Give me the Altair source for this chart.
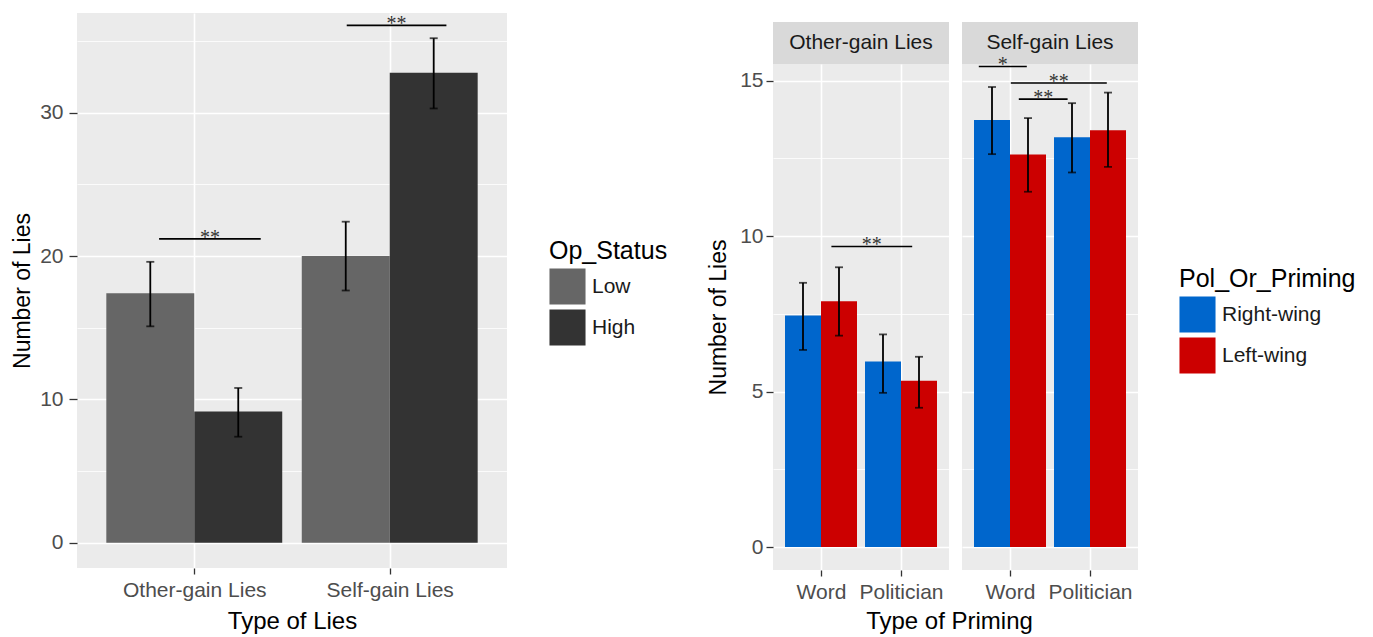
import altair as alt
import pandas as pd

# ---------------- data ----------------
# Left chart: Type of Lies x Op_Status
lie_types = ["Other-gain Lies", "Self-gain Lies"]
op_status = ["Low", "High"]
left_mean = [17.4, 9.15, 20.0, 32.8]   # (Other,Low) (Other,High) (Self,Low) (Self,High)
left_lo = [15.1, 7.4, 17.6, 30.3]
left_hi = [19.6, 10.8, 22.4, 35.2]

left_sig_x1 = [-0.18, 0.78]
left_sig_x2 = [0.34, 1.29]
left_sig_y = [21.2, 36.1]
left_sig_label = ["**", "**"]

# Right chart: faceted by Type of Lies, Type of Priming x Pol_Or_Priming
priming = ["Word", "Politician"]
orientation = ["Right-wing", "Left-wing"]
other_mean = [7.45, 7.91, 5.97, 5.35]   # (Word,Right) (Word,Left) (Pol,Right) (Pol,Left)
other_lo = [6.34, 6.80, 4.96, 4.48]
other_hi = [8.50, 9.00, 6.84, 6.12]
self_mean = [13.74, 12.63, 13.18, 13.41]
self_lo = [12.64, 11.43, 12.05, 12.23]
self_hi = [14.80, 13.80, 14.28, 14.62]

other_sig_x1 = [0.13]
other_sig_x2 = [1.14]
other_sig_y = [9.67]
other_sig_label = ["**"]
self_sig_x1 = [-0.39, 0.01, 0.11]
self_sig_x2 = [0.21, 1.21, 0.72]
self_sig_y = [15.46, 14.93, 14.41]
self_sig_label = ["*", "**", "**"]

FONT = "Liberation Sans"
PANEL = "#EBEBEB"
LABEL_SIZE = 21
TITLE_SIZE = 24


def dodge(cats, groups, catname, grpname, mean, lo, hi):
    rows = []
    k = 0
    for ci, c in enumerate(cats):
        for gi, g in enumerate(groups):
            xc = ci + (gi - 0.5) * 0.45
            rows.append({catname: c, grpname: g, "xc": xc, "x0": xc - 0.225,
                         "x1": xc + 0.225, "mean": mean[k], "lo": lo[k], "hi": hi[k]})
            k += 1
    return pd.DataFrame(rows)


def sig_df(x1, x2, y, label):
    return pd.DataFrame({"x1": x1, "x2": x2, "y": y, "label": label,
                         "xm": [(a + b) / 2 for a, b in zip(x1, x2)]})


def y_axis(major, values, show, title=None, tick=7, pad=4, tpad=5, ext=32):
    test = f"abs(datum.value % {major}) < 1e-6"
    common = dict(
        values=values,
        gridColor="white",
        gridWidth={"condition": {"test": test, "value": 1.6}, "value": 0.8},
        domain=False,
    )
    if show:
        return alt.Axis(
            title=title,
            labelExpr=f"{test} ? datum.label : ''",
            tickOpacity={"condition": {"test": test, "value": 1}, "value": 0},
            tickSize=tick, tickWidth=1.3, tickColor="#333333",
            labelPadding=pad, labelColor="#4D4D4D", labelFontSize=LABEL_SIZE, labelFont=FONT,
            titleFontSize=23, titleFont=FONT, titleFontWeight="normal", titleColor="black",
            titlePadding=tpad, minExtent=ext, maxExtent=ext,
            **common,
        )
    return alt.Axis(title=None, labels=False, ticks=False, minExtent=0, maxExtent=0, **common)


def x_axis(cats, title):
    arr = "[" + ",".join("'" + c + "'" for c in cats) + "]"
    kw = {}
    if title is not None:
        kw = dict(titleFontSize=TITLE_SIZE, titleFont=FONT, titleFontWeight="normal",
                  titleColor="black", titlePadding=9)
    return alt.Axis(
        values=list(range(len(cats))), labelExpr=f"{arr}[datum.value]",
        title=title, domain=False, gridColor="white", gridWidth=1.6,
        tickSize=6, tickWidth=1.3, tickColor="#333333", labelPadding=5,
        labelColor="#4D4D4D", labelFontSize=LABEL_SIZE, labelFont=FONT, **kw)


def panel(df, sig, cats, grpname, groups, colors, ydom, major, yvals,
          w, h, show_y, xtitle, legend, tpad):
    xs = alt.Scale(domain=[-0.6, len(cats) - 0.4], nice=False, zero=False)
    ys = alt.Scale(domain=ydom, nice=False, zero=False)
    base = alt.Chart(df)
    bars = base.mark_bar().encode(
        x=alt.X("x0:Q", scale=xs, axis=x_axis(cats, xtitle)),
        x2="x1",
        y=alt.Y("mean:Q", scale=ys,
                axis=y_axis(major, yvals, show_y, "Number of Lies",
                            tick=8 if major == 10 else 7,
                            pad=6 if major == 10 else 3,
                            tpad=tpad, ext=34 if major == 10 else 33)),
        y2=alt.datum(0),
        color=alt.Color(f"{grpname}:N", scale=alt.Scale(domain=groups, range=colors),
                        legend=legend),
    )
    err = base.mark_rule(color="black", strokeWidth=1.8).encode(
        x="xc:Q", y="lo:Q", y2="hi")
    cap_lo = base.mark_tick(orient="horizontal", size=8, thickness=1.8, color="black").encode(
        x="xc:Q", y="lo:Q")
    cap_hi = base.mark_tick(orient="horizontal", size=8, thickness=1.8, color="black").encode(
        x="xc:Q", y="hi:Q")
    sbase = alt.Chart(sig)
    srule = sbase.mark_rule(color="black", strokeWidth=1.6).encode(
        x="x1:Q", x2="x2", y="y:Q")
    stext = sbase.mark_text(font="Liberation Serif", fontSize=20, color="#333333",
                            baseline="alphabetic", dy=5).encode(
        x="xm:Q", y="y:Q", text="label:N")
    return alt.layer(bars, err, cap_lo, cap_hi, srule, stext).properties(
        width=w, height=h, view=alt.ViewBackground(fill=PANEL, strokeWidth=0))


legend_common = dict(orient="none", titleFontSize=25, titleFont=FONT, titleFontWeight="normal",
                     titleColor="black", labelFontSize=21, labelFont=FONT, labelColor="#1A1A1A",
                     symbolType="square", symbolSize=1300, symbolStrokeWidth=0,
                     symbolOpacity=1, rowPadding=4, titlePadding=4, labelOffset=6)

# ---------------- left chart ----------------
left_df = dodge(lie_types, op_status, "type", "Op_Status", left_mean, left_lo, left_hi)
left = panel(left_df, sig_df(left_sig_x1, left_sig_x2, left_sig_y, left_sig_label),
             lie_types, "Op_Status", op_status, ["#666666", "#333333"],
             [-1.76, 36.96], 10, [0, 5, 10, 15, 20, 25, 30, 35], 430, 555, True,
             "Type of Lies", alt.Legend(legendX=472, legendY=226, **legend_common), 9)

# ---------------- right chart ----------------
def strip(name):
    return alt.Chart(pd.DataFrame({"facet": [name]})).mark_text(
        font=FONT, fontSize=21, color="#1A1A1A", baseline="middle").encode(
        text="facet:N").properties(
        width=176, height=42, view=alt.ViewBackground(fill="#D9D9D9", strokeWidth=0))


def spacer():
    return alt.Chart(pd.DataFrame({"s": [" "]})).mark_text(opacity=0).encode(
        text="s:N").properties(
        width=176, height=9, view=alt.ViewBackground(fill="white", strokeWidth=0))


rvals = [0, 2.5, 5, 7.5, 10, 12.5, 15]
other_df = dodge(priming, orientation, "prime", "Pol_Or_Priming", other_mean, other_lo, other_hi)
self_df = dodge(priming, orientation, "prime", "Pol_Or_Priming", self_mean, self_lo, self_hi)
p1 = panel(other_df, sig_df(other_sig_x1, other_sig_x2, other_sig_y, other_sig_label),
           priming, "Pol_Or_Priming", orientation, ["#0066CC", "#CC0000"],
           [-0.74, 15.54], 5, rvals, 176, 506, True, None, None, 10)
p2 = panel(self_df, sig_df(self_sig_x1, self_sig_x2, self_sig_y, self_sig_label),
           priming, "Pol_Or_Priming", orientation, ["#0066CC", "#CC0000"],
           [-0.74, 15.54], 5, rvals, 176, 506, False, None,
           alt.Legend(legendX=217, legendY=203, **legend_common), 10)

col1 = alt.vconcat(spacer(), strip("Other-gain Lies"), p1, spacing=0, bounds="flush").resolve_scale(
    color="independent", x="independent", y="independent")
col2 = alt.vconcat(spacer(), strip("Self-gain Lies"), p2, spacing=0, bounds="flush").resolve_scale(
    color="independent", x="independent", y="independent")
right = alt.hconcat(col1, col2, spacing=13,
                    title=alt.TitleParams("Type of Priming", orient="bottom", anchor="middle",
                                          fontSize=TITLE_SIZE, font=FONT, fontWeight="normal",
                                          color="black", offset=8, dx=-82)).resolve_scale(
    color="independent", x="independent", y="independent")

chart = alt.hconcat(left, right, spacing=39).resolve_scale(
    color="independent", x="independent", y="independent").properties(
    padding={"left": 3, "top": 3, "right": 0, "bottom": 0}).configure(
    font=FONT).configure_view(strokeWidth=0)

chart.save("out.html", embed_options={"renderer": "svg", "actions": False})
